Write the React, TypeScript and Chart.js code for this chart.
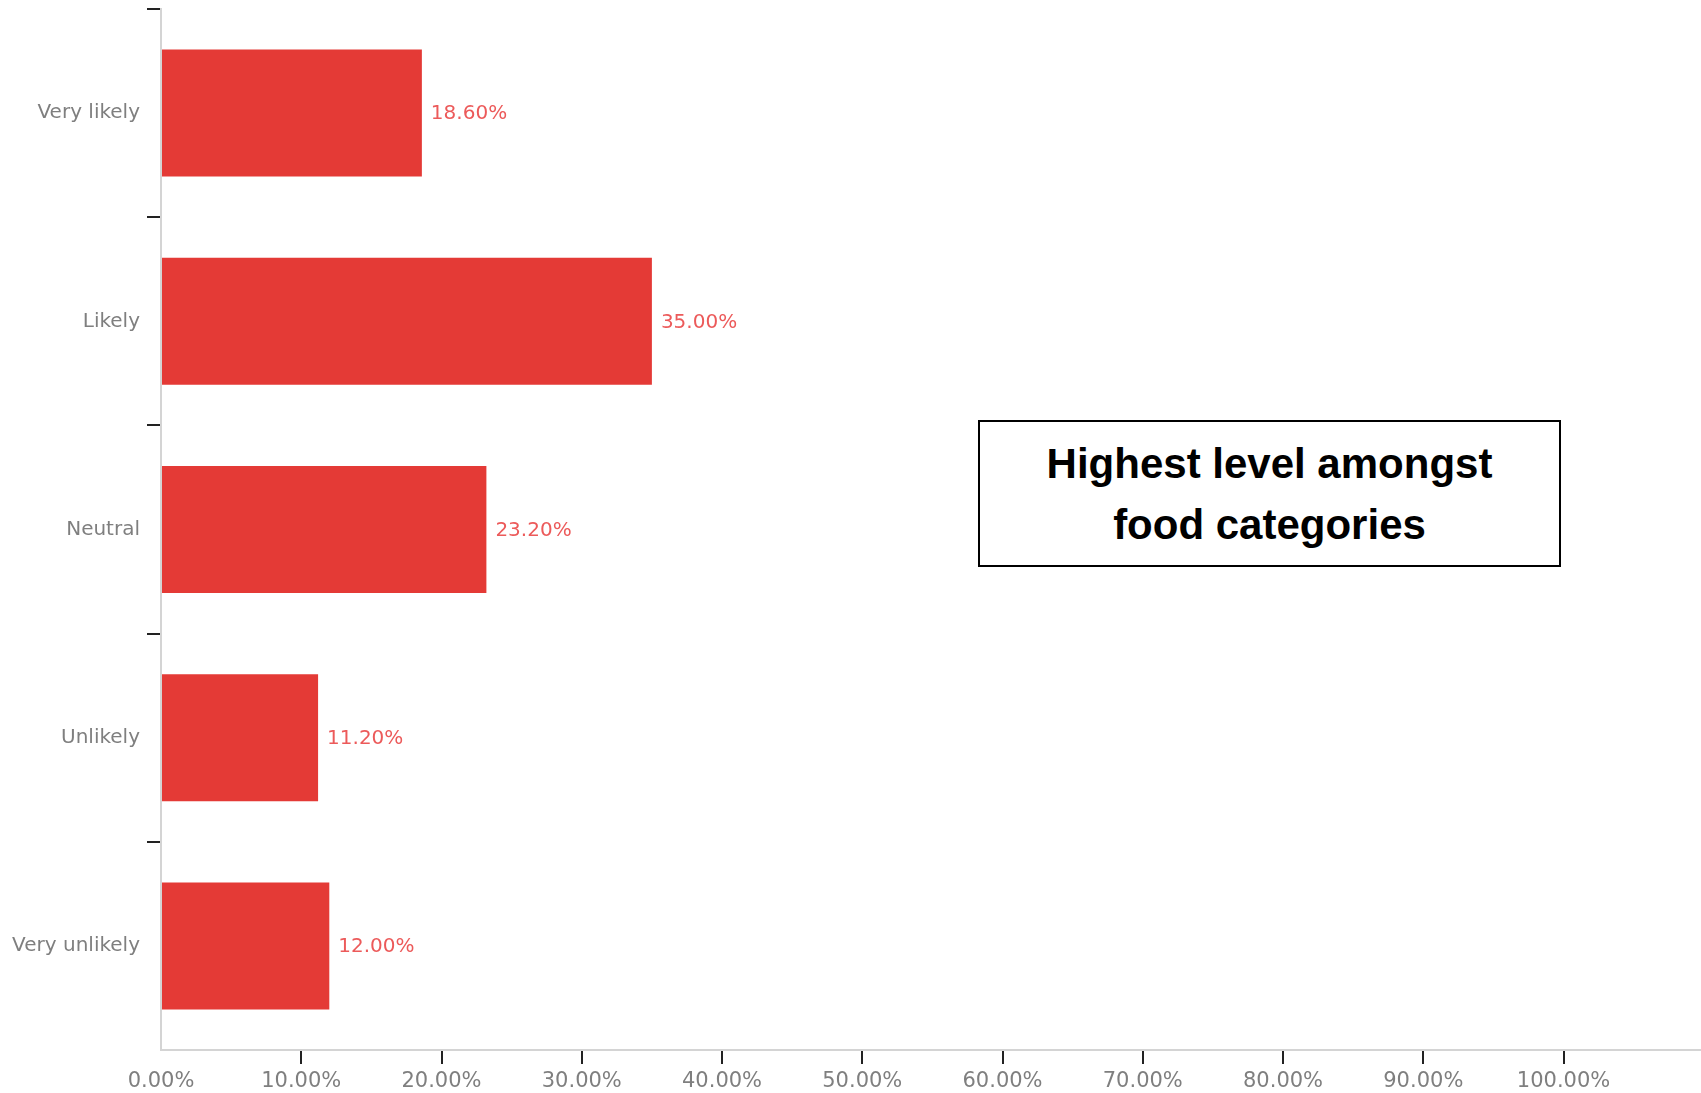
import React, { useEffect, useRef } from "react";
import { Chart, registerables } from "chart.js";

Chart.register(...registerables);

const categories = ["Very likely", "Likely", "Neutral", "Unlikely", "Very unlikely"];
const values = [18.6, 35.0, 23.2, 11.2, 12.0];
const noteLines = ["Highest level amongst", "food categories"];

const W = 1701;
const H = 1093;

const valueLabels = {
  id: "valueLabels",
  afterDatasetsDraw(chart: any) {
    const ctx = chart.ctx;
    const meta = chart.getDatasetMeta(0);
    ctx.save();
    ctx.font = "20px 'DejaVu Sans'";
    ctx.fillStyle = "#ec5a5a";
    ctx.textAlign = "left";
    ctx.textBaseline = "middle";
    meta.data.forEach((bar: any, i: number) => {
      const v = chart.data.datasets[0].data[i] as number;
      ctx.fillText(v.toFixed(2) + "%", bar.x + 9, bar.y + 1);
    });
    ctx.restore();
  },
};

export default function App() {
  const ref = useRef<HTMLCanvasElement>(null);
  useEffect(() => {
    if (!ref.current) return;
    const chart = new Chart(ref.current, {
      type: "bar",
      data: {
        labels: categories,
        datasets: [
          {
            data: values,
            backgroundColor: "#e43a36",
            borderWidth: 0,
            categoryPercentage: 0.61,
            barPercentage: 1,
          },
        ],
      },
      options: {
        indexAxis: "y",
        responsive: false,
        animation: false,
        layout: { padding: { top: 9, right: 0, left: 0, bottom: 0 } },
        plugins: { legend: { display: false }, tooltip: { enabled: false } },
        scales: {
          x: {
            type: "linear",
            min: 0,
            max: 109.8,
            ticks: {
              stepSize: 10,
              color: "#7f7f7f",
              font: { family: "'DejaVu Sans'", size: 21 },
              padding: 5,
              maxRotation: 0,
              callback: (v: any) => Number(v).toFixed(2) + "%",
            },
            afterBuildTicks: (axis: any) => {
              axis.ticks = axis.ticks.filter((t: any) => t.value <= 100.0001);
            },
            afterFit: (axis: any) => {
              axis.height = 43;
              axis.paddingLeft = 0;
              axis.paddingRight = 0;
            },
            grid: {
              drawOnChartArea: false,
              drawTicks: true,
              tickLength: 14,
              lineWidth: 2,
              tickColor: (c: any) => (c.index === 0 || c.index === undefined ? "transparent" : "#222"),
              color: "transparent",
            },
            border: { display: true, color: "#d4d4d4", width: 2 },
          },
          y: {
            type: "category",
            ticks: {
              color: "#7f7f7f",
              font: { family: "'DejaVu Sans'", size: 20 },
              padding: 7,
            },
            afterFit: (axis: any) => {
              axis.width = 161;
              axis.paddingTop = 0;
              axis.paddingBottom = 0;
            },
            grid: {
              offset: true,
              drawOnChartArea: false,
              drawTicks: true,
              tickLength: 14,
              lineWidth: 2,
              tickColor: (c: any) => (c.index === undefined ? "transparent" : "#222"),
              color: "transparent",
            },
            border: { display: true, color: "#d4d4d4", width: 2 },
          },
        },
      },
      plugins: [valueLabels],
    });
    return () => chart.destroy();
  }, []);

  return (
    <div style={{ position: "absolute", left: 0, top: 0, width: W, height: H, background: "#fff" }}>
      <canvas ref={ref} width={W} height={H} style={{ width: W, height: H, display: "block" }} />
      <div
        style={{
          position: "absolute",
          left: 978,
          top: 420,
          width: 583,
          height: 147,
          boxSizing: "border-box",
          border: "2px solid #000",
          background: "#fff",
          display: "flex",
          flexDirection: "column",
          justifyContent: "center",
          alignItems: "center",
          fontFamily: "'Liberation Sans', Arial, sans-serif",
          fontWeight: "bold",
          fontSize: 42,
          lineHeight: "61px",
          color: "#000",
        }}
      >
        {noteLines.map((l) => (
          <div key={l}>{l}</div>
        ))}
      </div>
    </div>
  );
}
